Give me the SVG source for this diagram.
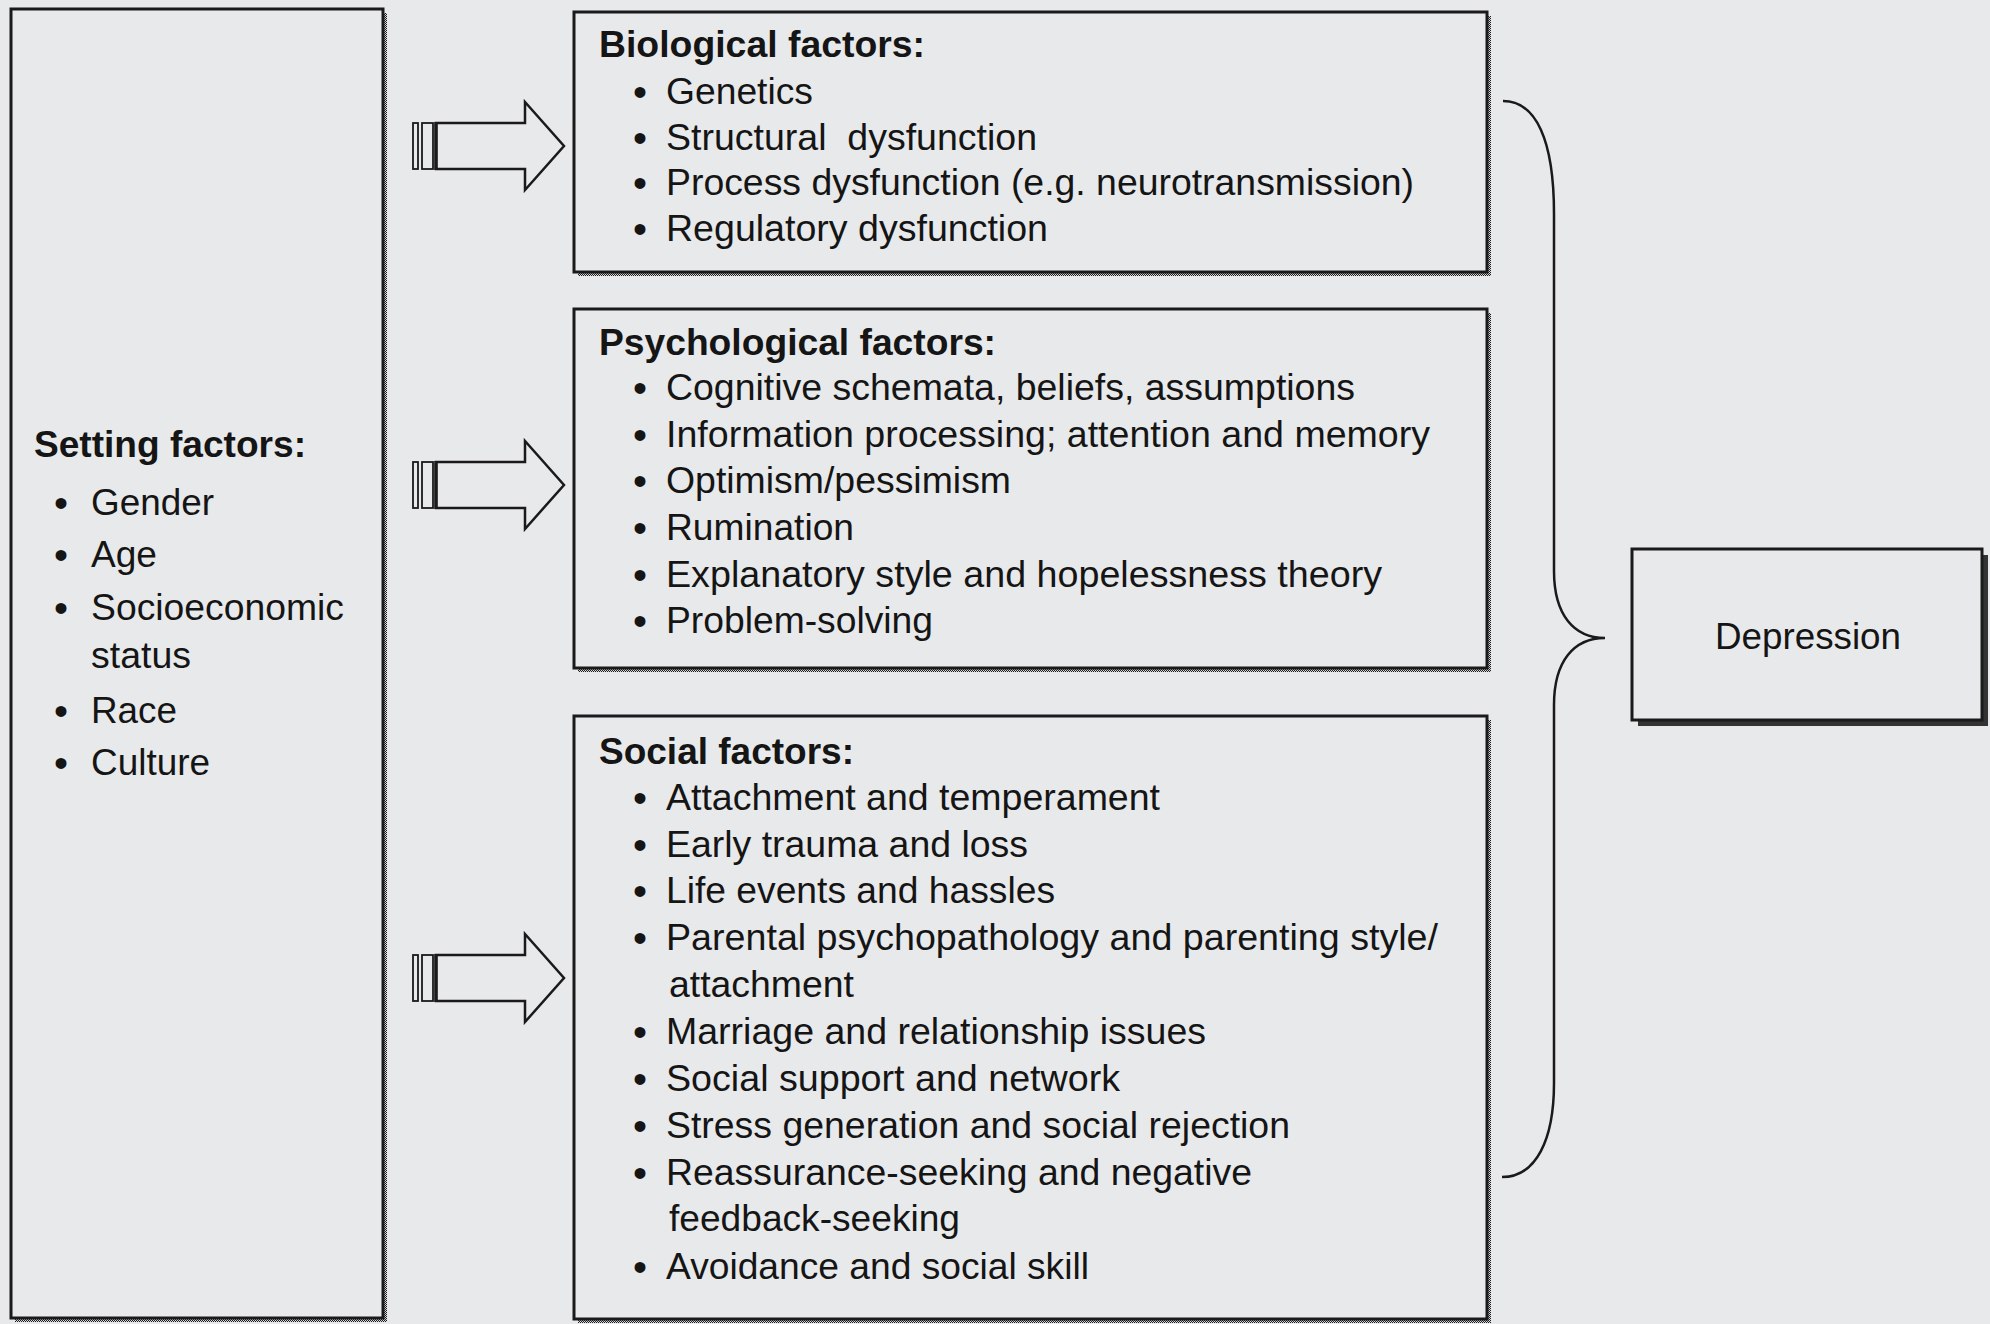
<svg xmlns="http://www.w3.org/2000/svg" width="1990" height="1324" viewBox="0 0 1990 1324">
  <defs>
    <pattern id="dither" width="2" height="2" patternUnits="userSpaceOnUse">
      <rect width="2" height="2" fill="#d8d8d8"/>
      <rect width="1" height="1" fill="#1e1e1e"/>
      <rect x="1" y="1" width="1" height="1" fill="#1e1e1e"/>
    </pattern>
    <style>
      .box { fill: #e8e9eb; stroke: #1a1a1a; stroke-width: 3; }
      .shadow { fill: url(#dither); }
      .title { font-family: "Liberation Sans", Arial, sans-serif; font-weight: bold; font-size: 37px; fill: #151515; }
      .item { font-family: "Liberation Sans", Arial, sans-serif; font-size: 36px; fill: #151515; white-space: pre; }
      .sitem { font-family: "Liberation Sans", Arial, sans-serif; font-size: 36px; fill: #151515; }
      .bul { font-family: "Liberation Sans", Arial, sans-serif; font-size: 40px; fill: #151515; text-anchor: middle; }
      .arrow { fill: #e8e9eb; stroke: #1a1a1a; stroke-width: 2.5; stroke-linejoin: miter; }
      .bar { fill: #e8e9eb; stroke: #1a1a1a; stroke-width: 1.8; }
      .brace { fill: none; stroke: #1a1a1a; stroke-width: 2.5; }
    </style>
  </defs>

  <rect width="1990" height="1324" fill="#e8e9eb"/>

  <g id="setting-factors">
    <rect class="shadow" x="15" y="13" width="372" height="1309"/>
    <rect class="box" x="11" y="9" width="372" height="1309"/>
    <text class="title" x="34" y="457" textLength="272" lengthAdjust="spacingAndGlyphs">Setting factors:</text>
    <text class="bul" x="61" y="517">•</text>
    <text class="sitem" x="91" y="515" textLength="123" lengthAdjust="spacingAndGlyphs">Gender</text>
    <text class="bul" x="61" y="569">•</text>
    <text class="sitem" x="91" y="567" textLength="66" lengthAdjust="spacingAndGlyphs">Age</text>
    <text class="bul" x="61" y="622">•</text>
    <text class="sitem" x="91" y="620" textLength="253" lengthAdjust="spacingAndGlyphs">Socioeconomic</text>
    <text class="sitem" x="91" y="668" textLength="100" lengthAdjust="spacingAndGlyphs">status</text>
    <text class="bul" x="61" y="725">•</text>
    <text class="sitem" x="91" y="723" textLength="86" lengthAdjust="spacingAndGlyphs">Race</text>
    <text class="bul" x="61" y="777">•</text>
    <text class="sitem" x="91" y="775" textLength="119" lengthAdjust="spacingAndGlyphs">Culture</text>
  </g>

  <g id="biological-factors">
    <rect class="shadow" x="578" y="16" width="913" height="260"/>
    <rect class="box" x="574" y="12" width="913" height="260"/>
    <text class="title" x="599" y="57" textLength="326" lengthAdjust="spacingAndGlyphs">Biological factors:</text>
    <text class="bul" x="640" y="106">•</text>
    <text class="item" x="666" y="104" textLength="147" lengthAdjust="spacingAndGlyphs">Genetics</text>
    <text class="bul" x="640" y="152">•</text>
    <text class="item" x="666" y="150" textLength="371" lengthAdjust="spacingAndGlyphs" xml:space="preserve">Structural  dysfunction</text>
    <text class="bul" x="640" y="197">•</text>
    <text class="item" x="666" y="195" textLength="748" lengthAdjust="spacingAndGlyphs">Process dysfunction (e.g. neurotransmission)</text>
    <text class="bul" x="640" y="243">•</text>
    <text class="item" x="666" y="241" textLength="382" lengthAdjust="spacingAndGlyphs">Regulatory dysfunction</text>
  </g>

  <g id="psychological-factors">
    <rect class="shadow" x="578" y="313" width="913" height="359"/>
    <rect class="box" x="574" y="309" width="913" height="359"/>
    <text class="title" x="599" y="355" textLength="397" lengthAdjust="spacingAndGlyphs">Psychological factors:</text>
    <text class="bul" x="640" y="402">•</text>
    <text class="item" x="666" y="400" textLength="689" lengthAdjust="spacingAndGlyphs">Cognitive schemata, beliefs, assumptions</text>
    <text class="bul" x="640" y="449">•</text>
    <text class="item" x="666" y="447" textLength="764" lengthAdjust="spacingAndGlyphs">Information processing; attention and memory</text>
    <text class="bul" x="640" y="495">•</text>
    <text class="item" x="666" y="493" textLength="345" lengthAdjust="spacingAndGlyphs">Optimism/pessimism</text>
    <text class="bul" x="640" y="542">•</text>
    <text class="item" x="666" y="540" textLength="188" lengthAdjust="spacingAndGlyphs">Rumination</text>
    <text class="bul" x="640" y="589">•</text>
    <text class="item" x="666" y="587" textLength="716" lengthAdjust="spacingAndGlyphs">Explanatory style and hopelessness theory</text>
    <text class="bul" x="640" y="635">•</text>
    <text class="item" x="666" y="633" textLength="267" lengthAdjust="spacingAndGlyphs">Problem-solving</text>
  </g>

  <g id="social-factors">
    <rect class="shadow" x="578" y="720" width="913" height="603"/>
    <rect class="box" x="574" y="716" width="913" height="603"/>
    <text class="title" x="599" y="764" textLength="255" lengthAdjust="spacingAndGlyphs">Social factors:</text>
    <text class="bul" x="640" y="812">•</text>
    <text class="item" x="666" y="810" textLength="494" lengthAdjust="spacingAndGlyphs">Attachment and temperament</text>
    <text class="bul" x="640" y="859">•</text>
    <text class="item" x="666" y="857" textLength="362" lengthAdjust="spacingAndGlyphs">Early trauma and loss</text>
    <text class="bul" x="640" y="905">•</text>
    <text class="item" x="666" y="903" textLength="389" lengthAdjust="spacingAndGlyphs">Life events and hassles</text>
    <text class="bul" x="640" y="952">•</text>
    <text class="item" x="666" y="950" textLength="772" lengthAdjust="spacingAndGlyphs">Parental psychopathology and parenting style/</text>
    <text class="item" x="669" y="997" textLength="185" lengthAdjust="spacingAndGlyphs">attachment</text>
    <text class="bul" x="640" y="1046">•</text>
    <text class="item" x="666" y="1044" textLength="540" lengthAdjust="spacingAndGlyphs">Marriage and relationship issues</text>
    <text class="bul" x="640" y="1093">•</text>
    <text class="item" x="666" y="1091" textLength="454" lengthAdjust="spacingAndGlyphs">Social support and network</text>
    <text class="bul" x="640" y="1140">•</text>
    <text class="item" x="666" y="1138" textLength="624" lengthAdjust="spacingAndGlyphs">Stress generation and social rejection</text>
    <text class="bul" x="640" y="1187">•</text>
    <text class="item" x="666" y="1185" textLength="586" lengthAdjust="spacingAndGlyphs">Reassurance-seeking and negative</text>
    <text class="item" x="669" y="1231" textLength="291" lengthAdjust="spacingAndGlyphs">feedback-seeking</text>
    <text class="bul" x="640" y="1281">•</text>
    <text class="item" x="666" y="1279" textLength="423" lengthAdjust="spacingAndGlyphs">Avoidance and social skill</text>
  </g>

  <g id="depression">
    <rect x="1638" y="555" width="350" height="171" fill="#333"/>
    <rect class="box" x="1632" y="549" width="350" height="171"/>
    <text x="1808" y="649" text-anchor="middle" font-family="'Liberation Sans', Arial, sans-serif" font-size="37" fill="#151515" textLength="186" lengthAdjust="spacingAndGlyphs">Depression</text>
  </g>

  <g id="connectors">
    <g id="arrow-bio">
      <rect class="bar" x="413" y="123" width="5" height="46"/>
      <rect class="bar" x="422" y="123" width="11" height="46"/>
      <path class="arrow" d="M436,123 L525,123 L525,102 L564,146 L525,190 L525,169 L436,169 Z"/>
      <line x1="436" y1="122" x2="436" y2="170" stroke="#1a1a1a" stroke-width="3.5"/>
    </g>
    <g id="arrow-psych">
      <rect class="bar" x="413" y="462" width="5" height="46"/>
      <rect class="bar" x="422" y="462" width="11" height="46"/>
      <path class="arrow" d="M436,462 L525,462 L525,441 L564,485 L525,529 L525,508 L436,508 Z"/>
      <line x1="436" y1="461" x2="436" y2="509" stroke="#1a1a1a" stroke-width="3.5"/>
    </g>
    <g id="arrow-social">
      <rect class="bar" x="413" y="955" width="5" height="46"/>
      <rect class="bar" x="422" y="955" width="11" height="46"/>
      <path class="arrow" d="M436,955 L525,955 L525,934 L564,978 L525,1022 L525,1001 L436,1001 Z"/>
      <line x1="436" y1="954" x2="436" y2="1002" stroke="#1a1a1a" stroke-width="3.5"/>
    </g>
    <path id="brace" class="brace" d="M1503,101 C1536,101 1554,140 1554,214 L1554,571 C1554,615 1574,638 1605,638 C1574,638 1554,661 1554,705 L1554,1083 C1554,1140 1536,1177 1502,1177"/>
  </g>
</svg>
